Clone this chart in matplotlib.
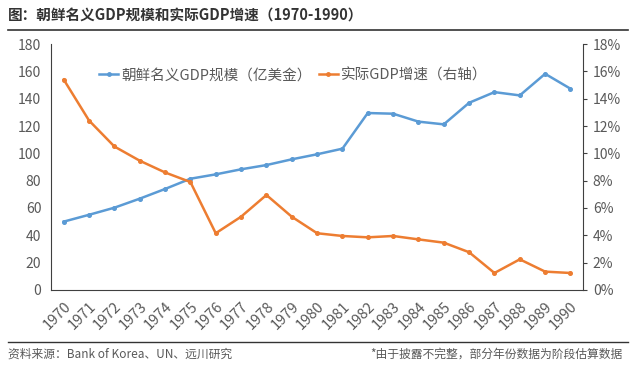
"""
North Korea nominal GDP and real GDP growth, 1970-1990.
"""

import matplotlib
matplotlib.use("Agg")
import matplotlib.pyplot as plt
from matplotlib.lines import Line2D
from matplotlib.ticker import FuncFormatter

plt.rcParams['font.family'] = ['Noto Sans CJK SC', 'DejaVu Sans']

years = [str(y) for y in range(1970, 1991)]
# nominal GDP, 100 million USD (left axis)
gdp = [50, 55, 60.2, 66.8, 73.9, 81.4, 84.6, 88.3, 91.4, 95.6, 99.3,
       103.4, 129.5, 129, 123.2, 121.2, 137, 144.8, 142.4, 158.2, 147.3]
# real GDP growth, % (right axis)
growth = [15.4, 12.4, 10.5, 9.46, 8.6, 7.9, 4.15, 5.36, 6.95, 5.36, 4.15,
          3.95, 3.85, 3.95, 3.7, 3.46, 2.76, 1.24, 2.24, 1.34, 1.24]

blue = '#5B9BD5'
orange = '#ED7D31'
grey = '#595959'

fig = plt.figure(figsize=(6.38, 3.67), dpi=100)
ax = fig.add_axes([0.08, 0.21, 0.834, 0.67])
ax2 = ax.twinx()

x = range(len(years))
ax.plot(x, gdp, color=blue, lw=1.8, marker='o', ms=2.6)
ax2.plot(x, growth, color=orange, lw=1.8, marker='o', ms=2.6)

ax.set_xlim(-0.5, len(years) - 0.5)
ax.set_ylim(0, 180)
ax.set_yticks(range(0, 181, 20))
ax2.set_ylim(0, 18)
ax2.set_yticks(range(0, 19, 2))
ax2.yaxis.set_major_formatter(FuncFormatter(lambda v, p: f"{v:.0f}%"))

ax.set_xticks(list(x))
ax.set_xticklabels(years, rotation=45, ha='right', rotation_mode='anchor')

for a in (ax, ax2):
    a.spines['top'].set_visible(False)
    a.tick_params(labelsize=10, colors=grey, labelcolor=grey)
ax.spines['right'].set_visible(False)
ax2.spines['left'].set_visible(False)
ax2.spines['bottom'].set_visible(False)
ax.spines['left'].set_color('#404040')
ax.spines['bottom'].set_color('#404040')
ax2.spines['right'].set_color('#404040')
ax.tick_params(axis='x', length=0, pad=7, labelsize=10.5)
ax.tick_params(axis='y', length=0, pad=7)
ax2.tick_params(axis='y', length=3, direction='out', color='#404040', pad=4)

handles = [Line2D([], [], color=blue, lw=1.8, marker='o', ms=2.5),
           Line2D([], [], color=orange, lw=1.8, marker='o', ms=2.5)]
ax.legend(handles, ['朝鲜名义GDP规模（亿美金）', '实际GDP增速（右轴）'],
          loc='center', bbox_to_anchor=(0.455, 0.874), ncol=2, frameon=False,
          fontsize=10.5, labelcolor=grey, handlelength=1.3, handletextpad=0.2,
          columnspacing=0.5)

fig.text(0.012, 0.958, '图：朝鲜名义GDP规模和实际GDP增速（1970-1990）',
         fontsize=10.5, fontweight='bold', color='#333333', va='center')
fig.add_artist(Line2D([0.012, 0.985], [0.918, 0.918], color='#333333', lw=1.2))
fig.add_artist(Line2D([0.012, 0.985], [0.068, 0.068], color='#333333', lw=1.0))
fig.text(0.012, 0.035, '资料来源：Bank of Korea、UN、远川研究', fontsize=8.5,
         color=grey, va='center')
fig.text(0.975, 0.035, '*由于披露不完整，部分年份数据为阶段估算数据', fontsize=8.5,
         color=grey, va='center', ha='right')

fig.savefig('out.png', dpi=100)
